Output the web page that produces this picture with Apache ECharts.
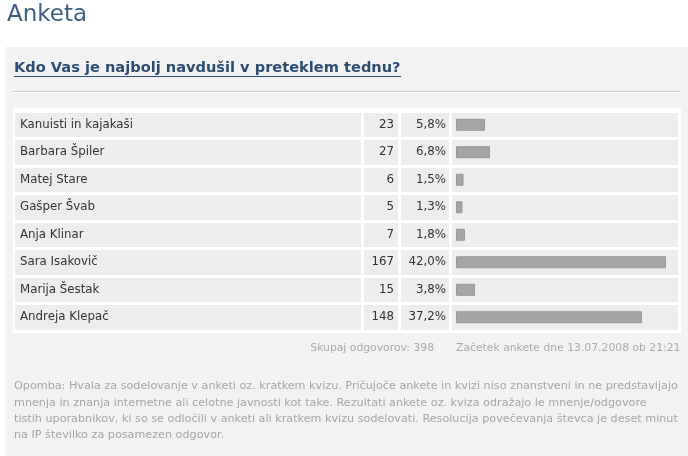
<!DOCTYPE html>
<html>
<head>
<meta charset="utf-8">
<script src="https://cdn.jsdelivr.net/npm/echarts@6/dist/echarts.min.js"></script>
<style>html,body{margin:0;padding:0;background:#fff;}#c{width:688px;height:456px;}</style>
</head>
<body>
<div id="c"></div>
<script>
const pageTitle = 'Anketa';
const question = 'Kdo Vas je najbolj navdušil v preteklem tednu?';
const names = ['Kanuisti in kajakaši', 'Barbara Špiler', 'Matej Stare', 'Gašper Švab', 'Anja Klinar', 'Sara Isakovič', 'Marija Šestak', 'Andreja Klepač'];
const counts = [23, 27, 6, 5, 7, 167, 15, 148];
const percents = [5.8, 6.8, 1.5, 1.3, 1.8, 42.0, 3.8, 37.2];
const totalText = 'Skupaj odgovorov: 398';
const startText = 'Začetek ankete dne 13.07.2008 ob 21:21';
const noteLines = [
  'Opomba: Hvala za sodelovanje v anketi oz. kratkem kvizu. Pričujoče ankete in kvizi niso znanstveni in ne predstavljajo',
  'mnenja in znanja internetne ali celotne javnosti kot take. Rezultati ankete oz. kviza odražajo le mnenje/odgovore',
  'tistih uporabnikov, ki so se odločili v anketi ali kratkem kvizu sodelovati. Resolucija povečevanja števca je deset minut',
  'na IP številko za posamezen odgovor.'
];

const fmtPct = v => v.toFixed(1).replace('.', ',') + '%';
const FONT = '"DejaVu Sans", Verdana, sans-serif';
const cellColor = '#ededed';
const TOP = 111, H = 220;

const chart = echarts.init(document.getElementById('c'));

function catAxis(gi, labels, pos, margin, extra) {
  return Object.assign({
    type: 'category', gridIndex: gi, inverse: true, data: labels,
    position: pos,
    axisLine: {show: false}, axisTick: {show: false},
    axisLabel: {inside: true, margin: margin, color: '#333', fontFamily: FONT, fontSize: 11.8},
    splitArea: {show: true, areaStyle: {color: [cellColor]}},
    splitLine: {show: true, lineStyle: {color: '#ffffff', width: 3}}
  }, extra || {});
}

chart.setOption({
  animation: false,
  backgroundColor: '#ffffff',
  title: {
    text: pageTitle, left: 2, top: -1,
    textStyle: {color: '#3f5f80', fontFamily: FONT, fontSize: 23, fontWeight: 'normal'}
  },
  grid: [
    {left: 15, top: TOP, width: 346, height: H},
    {left: 364, top: TOP, width: 34, height: H},
    {left: 401, top: TOP, width: 48, height: H},
    {left: 452, top: TOP, width: 226, height: H}
  ],
  xAxis: [
    {type: 'value', gridIndex: 0, show: false, min: 0, max: 1},
    {type: 'value', gridIndex: 1, show: false, min: 0, max: 1},
    {type: 'value', gridIndex: 2, show: false, min: 0, max: 1},
    {type: 'value', gridIndex: 3, show: false, min: -0.8, max: 44.4}
  ],
  yAxis: [
    catAxis(0, names, 'left', 5),
    catAxis(1, counts.map(String), 'right', 4),
    catAxis(2, percents.map(fmtPct), 'right', 3),
    catAxis(3, names, 'left', 0, {axisLabel: {show: false}})
  ],
  series: [{
    type: 'bar', xAxisIndex: 3, yAxisIndex: 3,
    data: percents, barWidth: 12,
    itemStyle: {color: '#a5a5a5', borderColor: '#989898', borderWidth: 1}
  }],
  graphic: [
    {type: 'rect', z: -10, shape: {x: 5, y: 47, width: 683, height: 409}, style: {fill: '#f2f2f2'}},
    {type: 'rect', z: -9, shape: {x: 13, y: 108, width: 668, height: 225}, style: {fill: '#ffffff'}},
    {type: 'text', x: 14, y: 68, style: {text: question, fill: '#2c4d70', font: 'bold 14.6px ' + FONT, verticalAlign: 'middle'}},
    {type: 'line', shape: {x1: 14, y1: 76.5, x2: 401, y2: 76.5}, style: {stroke: '#2c4d70', lineWidth: 1}},
    {type: 'line', shape: {x1: 13, y1: 91.5, x2: 681, y2: 91.5}, style: {stroke: '#c8c8c8', lineWidth: 1}},
    {type: 'line', shape: {x1: 13, y1: 92.5, x2: 681, y2: 92.5}, style: {stroke: '#ffffff', lineWidth: 1}},
    {type: 'text', x: 434, y: 348, style: {text: totalText, fill: '#ababab', font: '10.8px ' + FONT, align: 'right', verticalAlign: 'middle'}},
    {type: 'text', x: 456, y: 348, style: {text: startText, fill: '#ababab', font: '10.8px ' + FONT, verticalAlign: 'middle'}}
  ].concat(noteLines.map((t, i) => ({
    type: 'text', x: 14, y: 386.5 + i * 16.3,
    style: {text: t, fill: '#a6a6a6', font: '11.2px ' + FONT, verticalAlign: 'middle'}
  })))
});
</script>
</body>
</html>
